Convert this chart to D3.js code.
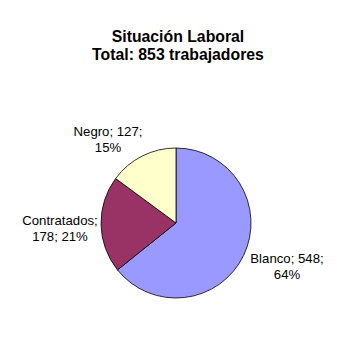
<!DOCTYPE html>
<html>
<head>
<meta charset="utf-8">
<script src="https://cdn.jsdelivr.net/npm/d3@7"></script>
<style>
  body { margin: 0; background: #fff; }
  text { font-family: "Liberation Sans", Arial, sans-serif; fill: #000; }
</style>
</head>
<body>
<script>
const categories = ["Blanco", "Contratados", "Negro"]
const values = [548, 178, 127]
const percents = ["64%", "21%", "15%"]
const colors = ["#9999ff", "#993366", "#ffffcc"]

const w = 356
const h = 351

const svg = d3.select("body").append("svg")
    .attr("width", w)
    .attr("height", h)

// title
const title = svg.append("text")
    .attr("text-anchor", "middle")
    .style("font-size", "15.8px")
    .style("font-weight", "bold")
title.append("tspan").attr("x", 178).attr("y", 42).text("Situación Laboral")
title.append("tspan").attr("x", 178).attr("y", 60).text("Total: 853 trabajadores")

const cx = 176, cy = 223, r = 75

const pie = d3.pie().sort(null).value(d => d)
const arc = d3.arc().innerRadius(0).outerRadius(r)

const g = svg.append("g").attr("transform", `translate(${cx},${cy})`)

g.selectAll("path")
    .data(pie(values))
    .enter()
    .append("path")
    .attr("d", arc)
    .attr("fill", (d, i) => colors[i])
    .attr("stroke", "#000")
    .attr("stroke-width", 0.8)

// labels: two lines each
const labelPos = [
    {x: 287, y: 263, l1: categories[0] + "; " + values[0] + ";", l2: percents[0]},
    {x: 60, y: 225, l1: categories[1] + ";", l2: values[1] + "; " + percents[1]},
    {x: 108, y: 136, l1: categories[2] + "; " + values[2] + ";", l2: percents[2]}
]

const labels = svg.selectAll(".labels")
    .data(labelPos)
    .enter()
    .append("text")
    .attr("class", "labels")
    .attr("text-anchor", "middle")
    .style("font-size", "13.2px")

labels.append("tspan")
    .attr("x", d => d.x)
    .attr("y", d => d.y)
    .text(d => d.l1)

labels.append("tspan")
    .attr("x", d => d.x)
    .attr("dy", 16)
    .text(d => d.l2)
</script>
</body>
</html>
